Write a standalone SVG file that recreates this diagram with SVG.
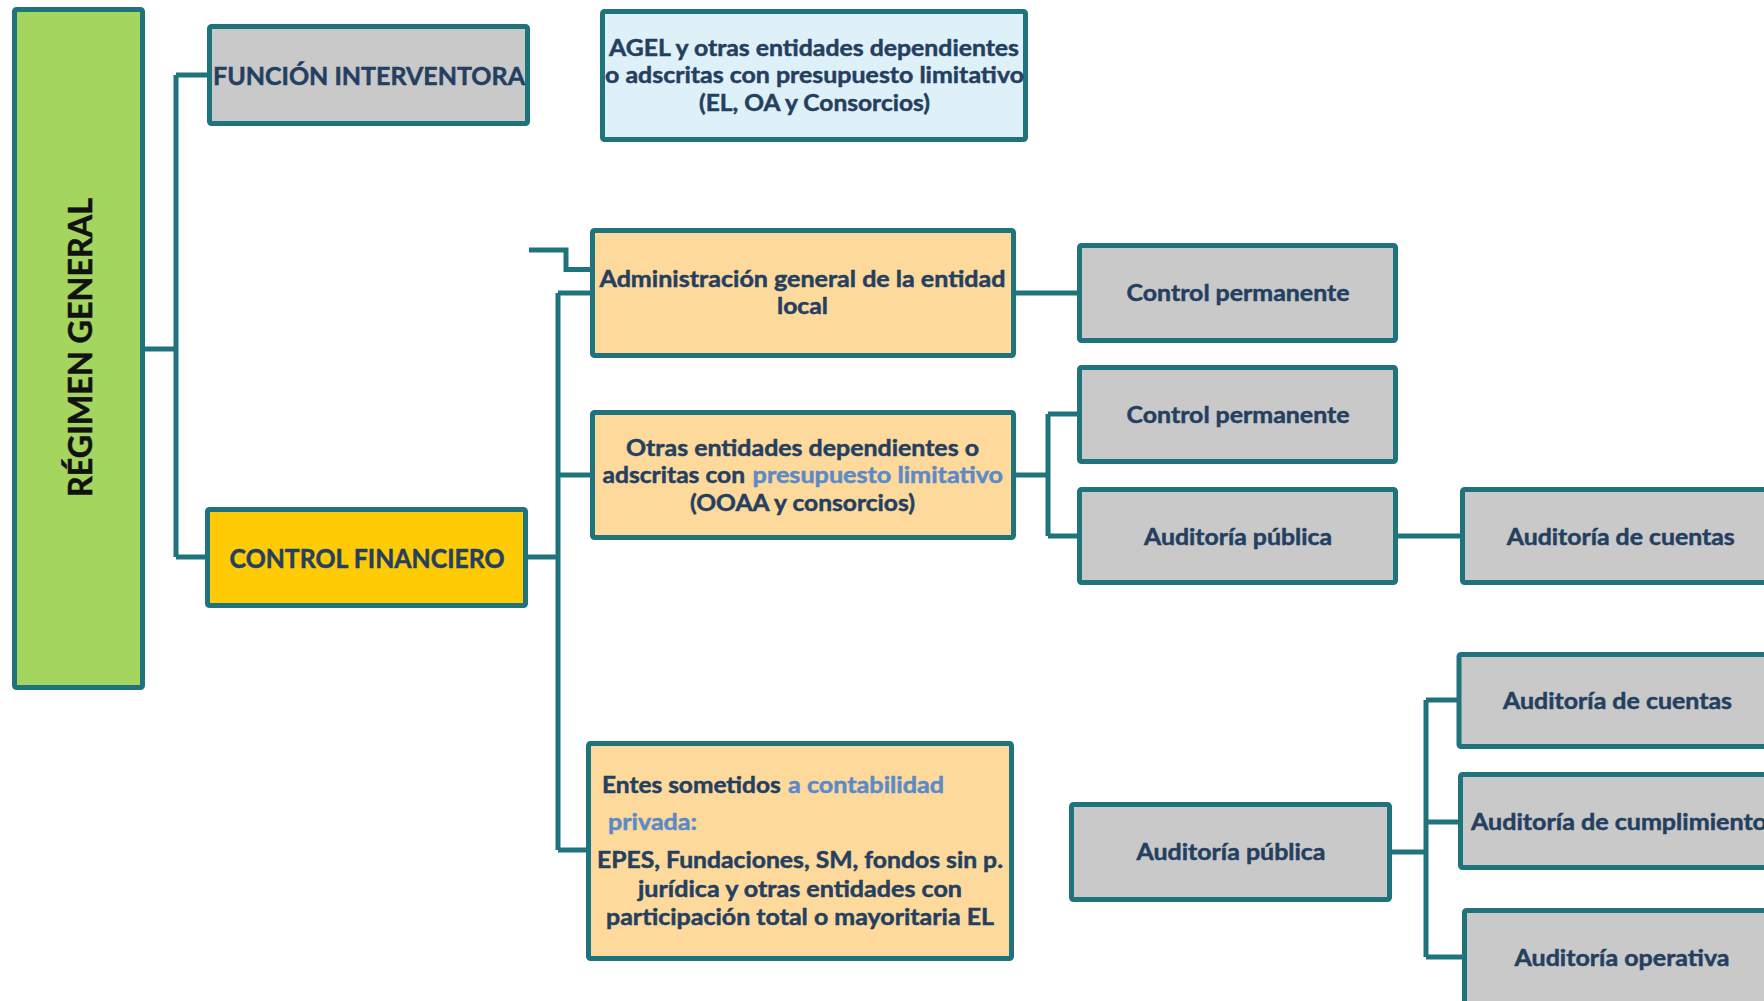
<svg xmlns="http://www.w3.org/2000/svg" width="1764" height="1001" viewBox="0 0 1764 1001">
  <style>
    .box { stroke: #1e737d; stroke-width: 5; }
    .green { fill: #a3d55f; }
    .grey { fill: #c9c9c9; }
    .peach { fill: #fdd99c; }
    .yellow { fill: #ffcb05; }
    .sky { fill: #dff1f8; }
    .link { fill: none; stroke: #1e737d; stroke-width: 5; stroke-linejoin: miter; }
    text { font-family: Lato, "Liberation Sans", sans-serif; font-weight: bold; fill: #243f60; stroke: #243f60; stroke-width: 0.5; }
    .t23 { font-size: 23.5px; }
    .t25 { font-size: 25px; }
    .t26 { font-size: 26px; }
    .hl { fill: #5b8ac8; stroke: #5b8ac8; }
    .title { font-size: 33px; fill: #111111; stroke: #111111; }
  </style>
  <rect width="1764" height="1001" fill="#ffffff"/>

  <!-- connectors -->
  <g id="connectors">
    <path class="link" d="M144,349 H176"/>
    <path class="link" d="M176,75 V557"/>
    <path class="link" d="M176,75 H209"/>
    <path class="link" d="M176,557 H207"/>
    <path class="link" d="M528,557 H558"/>
    <path class="link" d="M558,293 V850"/>
    <path class="link" d="M558,293 H592"/>
    <path class="link" d="M558,475 H592"/>
    <path class="link" d="M558,850 H588"/>
    <path class="link" d="M529,250 H566 V269.5 H592"/>
    <path class="link" d="M1016,293 H1079"/>
    <path class="link" d="M1016,475 H1048"/>
    <path class="link" d="M1048,414 V536"/>
    <path class="link" d="M1048,414 H1079"/>
    <path class="link" d="M1048,536 H1079"/>
    <path class="link" d="M1398,536 H1462"/>
    <path class="link" d="M1392,852 H1426"/>
    <path class="link" d="M1426,700 V957"/>
    <path class="link" d="M1426,700 H1459"/>
    <path class="link" d="M1426,822 H1460"/>
    <path class="link" d="M1426,957 H1464"/>
  </g>

  <!-- root -->
  <g id="regimen-general">
    <rect class="box green" x="14.5" y="9.5" width="128" height="678" rx="2"/>
    <text class="title" transform="translate(92,497) rotate(-90)" x="0" y="0" textLength="299" lengthAdjust="spacingAndGlyphs">RÉGIMEN GENERAL</text>
  </g>

  <g id="funcion-interventora">
    <rect class="box grey" x="209.5" y="26.5" width="318" height="97" rx="2"/>
    <text class="t25" x="213" y="85" textLength="312" lengthAdjust="spacingAndGlyphs">FUNCIÓN INTERVENTORA</text>
  </g>

  <g id="agel">
    <rect class="box sky" x="602.5" y="11.5" width="423" height="128" rx="2"/>
    <text class="t23" x="609" y="56" textLength="410" lengthAdjust="spacingAndGlyphs">AGEL y otras entidades dependientes</text>
    <text class="t23" x="605" y="83" textLength="419" lengthAdjust="spacingAndGlyphs">o adscritas con presupuesto limitativo</text>
    <text class="t23" x="699" y="110.5" textLength="231" lengthAdjust="spacingAndGlyphs">(EL, OA y Consorcios)</text>
  </g>

  <g id="control-financiero">
    <rect class="box yellow" x="207.5" y="509.5" width="318" height="96" rx="2"/>
    <text class="t26" x="229.6" y="568" textLength="275" lengthAdjust="spacingAndGlyphs">CONTROL FINANCIERO</text>
  </g>

  <g id="administracion-general">
    <rect class="box peach" x="592.5" y="230.5" width="421" height="125" rx="2"/>
    <text class="t23" x="599.5" y="287" textLength="406" lengthAdjust="spacingAndGlyphs">Administración general de la entidad</text>
    <text class="t23" x="777" y="314" textLength="51" lengthAdjust="spacingAndGlyphs">local</text>
  </g>

  <g id="otras-entidades">
    <rect class="box peach" x="592.5" y="412.5" width="421" height="125" rx="2"/>
    <text class="t23" x="626" y="456" textLength="353" lengthAdjust="spacingAndGlyphs">Otras entidades dependientes o</text>
    <text class="t23" x="602.5" y="483" textLength="142.5" lengthAdjust="spacingAndGlyphs">adscritas con</text>
    <text class="t23 hl" x="752.6" y="483" textLength="250.5" lengthAdjust="spacingAndGlyphs">presupuesto limitativo</text>
    <text class="t23" x="690" y="510.5" textLength="225" lengthAdjust="spacingAndGlyphs">(OOAA y consorcios)</text>
  </g>

  <g id="entes-privados">
    <rect class="box peach" x="588.5" y="743.5" width="423" height="215" rx="2"/>
    <text class="t23" x="602" y="793" textLength="178.7" lengthAdjust="spacingAndGlyphs">Entes sometidos</text>
    <text class="t23 hl" x="788" y="793" textLength="156" lengthAdjust="spacingAndGlyphs">a contabilidad</text>
    <text class="t23 hl" x="608" y="830" textLength="89" lengthAdjust="spacingAndGlyphs">privada:</text>
    <text class="t23" x="597" y="868" textLength="406" lengthAdjust="spacingAndGlyphs">EPES, Fundaciones, SM, fondos sin p.</text>
    <text class="t23" x="638" y="897" textLength="324" lengthAdjust="spacingAndGlyphs">jurídica y otras entidades con</text>
    <text class="t23" x="606" y="925" textLength="388" lengthAdjust="spacingAndGlyphs">participación total o mayoritaria EL</text>
  </g>

  <g id="control-permanente-1">
    <rect class="box grey" x="1079.5" y="245.5" width="316" height="95" rx="2"/>
    <text class="t23" x="1126.5" y="301" textLength="223" lengthAdjust="spacingAndGlyphs">Control permanente</text>
  </g>

  <g id="control-permanente-2">
    <rect class="box grey" x="1079.5" y="367.5" width="316" height="94" rx="2"/>
    <text class="t23" x="1126.5" y="423" textLength="223" lengthAdjust="spacingAndGlyphs">Control permanente</text>
  </g>

  <g id="auditoria-publica-1">
    <rect class="box grey" x="1079.5" y="489.5" width="316" height="93" rx="2"/>
    <text class="t23" x="1144" y="545" textLength="188" lengthAdjust="spacingAndGlyphs">Auditoría pública</text>
  </g>

  <g id="auditoria-cuentas-1">
    <rect class="box grey" x="1462.5" y="489.5" width="400" height="93" rx="2"/>
    <text class="t23" x="1506.7" y="545" textLength="228" lengthAdjust="spacingAndGlyphs">Auditoría de cuentas</text>
  </g>

  <g id="auditoria-publica-2">
    <rect class="box grey" x="1071.5" y="804.5" width="318" height="95" rx="2"/>
    <text class="t23" x="1136.5" y="860" textLength="189" lengthAdjust="spacingAndGlyphs">Auditoría pública</text>
  </g>

  <g id="auditoria-cuentas-2">
    <rect class="box grey" x="1459" y="654.5" width="400" height="92" rx="2"/>
    <text class="t23" x="1503" y="709" textLength="229" lengthAdjust="spacingAndGlyphs">Auditoría de cuentas</text>
  </g>

  <g id="auditoria-cumplimiento">
    <rect class="box grey" x="1460.5" y="774.5" width="400" height="93" rx="2"/>
    <text class="t23" x="1471" y="830" textLength="296" lengthAdjust="spacingAndGlyphs">Auditoría de cumplimiento</text>
  </g>

  <g id="auditoria-operativa">
    <rect class="box grey" x="1464.5" y="910.5" width="400" height="200" rx="2"/>
    <text class="t23" x="1514.5" y="966" textLength="215" lengthAdjust="spacingAndGlyphs">Auditoría operativa</text>
  </g>
</svg>
